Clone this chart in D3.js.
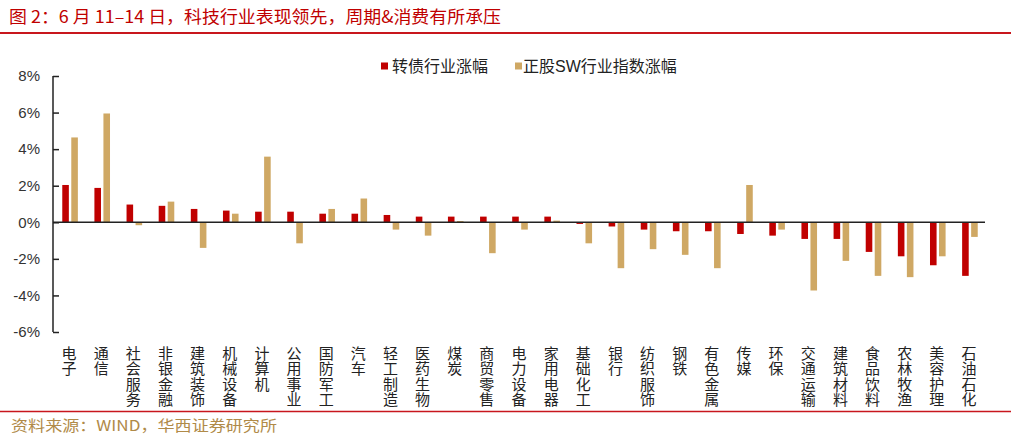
<!DOCTYPE html>
<html>
<head>
<meta charset="utf-8">
<script src="https://cdn.jsdelivr.net/npm/d3@7"></script>
<style>
  html, body { margin: 0; padding: 0; background: #fff; }
  svg { display: block; }
</style>
</head>
<body>
<svg id="chart" width="1011" height="441"></svg>
<script>
const categories = ["电子","通信","社会服务","非银金融","建筑装饰","机械设备","计算机","公用事业","国防军工","汽车","轻工制造","医药生物","煤炭","商贸零售","电力设备","家用电器","基础化工","银行","纺织服饰","钢铁","有色金属","传媒","环保","交通运输","建筑材料","食品饮料","农林牧渔","美容护理","石油石化"];
const seriesNames = ["转债行业涨幅","正股SW行业指数涨幅"];
const cbValues = [2.04,1.88,0.97,0.90,0.73,0.64,0.58,0.58,0.47,0.47,0.40,0.31,0.31,0.31,0.31,0.31,-0.09,-0.23,-0.40,-0.49,-0.49,-0.64,-0.73,-0.91,-0.91,-1.62,-1.86,-2.35,-2.93];
const swValues = [4.64,5.95,-0.16,1.13,-1.40,0.47,3.59,-1.15,0.73,1.30,-0.40,-0.73,0.07,-1.69,-0.40,0.09,-1.15,-2.51,-1.47,-1.78,-2.51,2.04,-0.40,-3.73,-2.11,-2.93,-3.00,-1.86,-0.80];
const yTicks = [-6,-4,-2,0,2,4,6,8];
const colors = ["#C00000","#CFA864"];
const titleText = "图 2：6 月 11–14 日，科技行业表现领先，周期&消费有所承压";
const sourceText = "资料来源：WIND，华西证券研究所";

const svg = d3.select("#chart");
const cjk = "'Noto Sans CJK SC', 'Liberation Sans', sans-serif";
const latin = "'Liberation Sans', 'Noto Sans CJK SC', sans-serif";

// title
svg.append("text").attr("x", 9).attr("y", 23)
  .attr("font-family", cjk).attr("font-size", 17).attr("fill", "#C00000")
  .attr("textLength", 492).attr("lengthAdjust", "spacingAndGlyphs")
  .text(titleText);
svg.append("line").attr("x1", 0).attr("x2", 1011).attr("y1", 33).attr("y2", 33)
  .attr("stroke", "#C8161D").attr("stroke-width", 2);

// bottom line + source
svg.append("line").attr("x1", 0).attr("x2", 1011).attr("y1", 411.5).attr("y2", 411.5)
  .attr("stroke", "#C8161D").attr("stroke-width", 1.5);
svg.append("text").attr("x", 11).attr("y", 431)
  .attr("font-family", cjk).attr("font-size", 15).attr("fill", "#B08A48")
  .attr("textLength", 266).attr("lengthAdjust", "spacingAndGlyphs")
  .text(sourceText);

// scales
const x0 = d3.scaleBand().domain(categories).range([53, 985]).paddingInner(0).paddingOuter(0);
const x1 = d3.scaleBand().domain(seriesNames).range([0, 15.6]).paddingInner(0.27);
const y = d3.scaleLinear().domain([-6, 8]).range([332, 76]);

// y axis
const yAxis = d3.axisLeft(y).tickValues(yTicks).tickSize(0).tickPadding(0)
  .tickFormat(d => d + "%");
const yg = svg.append("g").attr("transform", "translate(53,0)").call(yAxis);
yg.select(".domain").remove();
yg.selectAll("text").attr("x", -13).attr("font-family", latin).attr("font-size", 15).attr("fill", "#333");
yg.selectAll(".tick").append("line").attr("x1", 0).attr("x2", 6).attr("stroke", "#222").attr("stroke-width", 1.5);
svg.append("line").attr("x1", 53).attr("x2", 53).attr("y1", y(8)).attr("y2", y(-6))
  .attr("stroke", "#222").attr("stroke-width", 1.5);

// bars
const rows = categories.map((c, i) => ({cat: c, vals: [cbValues[i], swValues[i]]}));
const groups = svg.append("g").selectAll("g").data(rows).join("g")
  .attr("transform", d => `translate(${x0(d.cat) + x0.bandwidth()/2 - 7.8 + 1},0)`);
groups.selectAll("rect").data(d => d.vals.map((v, k) => ({v, k}))).join("rect")
  .attr("x", d => x1(seriesNames[d.k]))
  .attr("width", x1.bandwidth())
  .attr("y", d => Math.min(y(d.v), y(0)))
  .attr("height", d => Math.abs(y(d.v) - y(0)))
  .attr("fill", d => colors[d.k]);

// zero line
svg.append("line").attr("x1", 53).attr("x2", 985).attr("y1", y(0)).attr("y2", y(0))
  .attr("stroke", "#222").attr("stroke-width", 1.5);

// x labels (vertical writing)
svg.append("g").selectAll("text").data(categories).join("text")
  .attr("x", d => x0(d) + x0.bandwidth()/2)
  .attr("y", 345.5)
  .attr("writing-mode", "vertical-rl")
  .style("writing-mode", "vertical-rl")
  .attr("font-family", cjk).attr("font-size", 15)
  .attr("letter-spacing", 0.6)
  .attr("fill", "#222")
  .text(d => d);

// legend
const legendItems = [{name: seriesNames[0], sx: 381, tx: 392}, {name: seriesNames[1], sx: 515, tx: 523}];
legendItems.forEach((d, i) => {
  svg.append("rect").attr("x", d.sx).attr("y", 62.5).attr("width", 7).attr("height", 7).attr("fill", colors[i]);
  svg.append("text").attr("x", d.tx).attr("y", 66).attr("dominant-baseline", "central")
    .attr("font-family", latin).attr("font-size", 16).attr("fill", "#222").text(d.name);
});
</script>
</body>
</html>
